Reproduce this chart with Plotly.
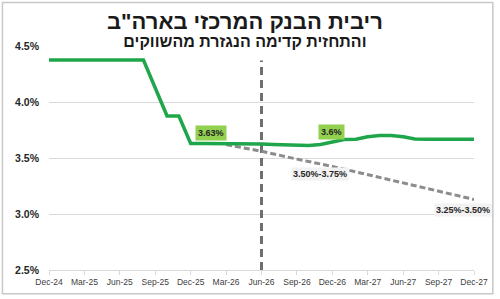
import plotly.graph_objects as go
import pandas as pd

months = [p.strftime("%b-%y") for p in pd.period_range("2024-12", "2027-12", freq="M")]

fed_rate = [4.375, 4.375, 4.375, 4.375, 4.375, 4.375, 4.375, 4.375, 4.375,
            4.125, 3.875, 3.875, 3.63, 3.63, 3.63, 3.63, 3.625, 3.625, 3.625,
            3.62, 3.615, 3.61, 3.612, 3.62, 3.64, 3.665, 3.668, 3.69, 3.70,
            3.70, 3.69, 3.67, 3.668, 3.668, 3.668, 3.668, 3.668]

fcst_months = ["Mar-26", "Jun-26", "Sep-26", "Dec-26", "Dec-27"]
fcst_rate = [3.62, 3.56, 3.49, 3.425, 3.13]

vline_month = "Jun-26"
vline_top = 4.37

tick_months = months[::3]
y_ticks = [2.5, 3.0, 3.5, 4.0, 4.5]
y_ticktext = ["2.5%", "3.0%", "3.5%", "4.0%", "4.5%"]

title1 = 'ריבית הבנק המרכזי בארה"ב'
title2 = "והתחזית קדימה הנגזרת מהשווקים"

fig = go.Figure()
fig.add_trace(go.Scatter(x=[vline_month, vline_month], y=[2.5, vline_top], mode="lines",
                         line=dict(color="#6f6f6f", width=3, dash="8px,5px"), hoverinfo="skip"))
fig.add_trace(go.Scatter(x=fcst_months, y=fcst_rate, mode="lines",
                         line=dict(color="#8c8c8c", width=3, dash="6px,3px"), hoverinfo="skip"))
fig.add_trace(go.Scatter(x=months, y=fed_rate, mode="lines",
                         line=dict(color="#1fa64a", width=3.5), hoverinfo="skip"))

lab_font = dict(family="Liberation Sans, Arial", size=9, color="#262626")
fig.add_annotation(x=13.76, y=3.72, text="<b>3.63%</b>", showarrow=False,
                   bgcolor="#92d050", font=lab_font, borderpad=2)
fig.add_annotation(x=23.97, y=3.729, text="<b>3.6%</b>", showarrow=False,
                   bgcolor="#92d050", font=lab_font, borderpad=2)
fig.add_annotation(x=22.99, y=3.359, text="<b>3.50%-3.75%</b>", showarrow=False,
                   bgcolor="#f2f2f2", font=lab_font, borderpad=1)
fig.add_annotation(x=35.07, y=3.032, text="<b>3.25%-3.50%</b>", showarrow=False,
                   bgcolor="#f2f2f2", font=lab_font, borderpad=1)

title_text = ("<span style='font-size:22px'><b>" + title1 + "</b></span><br>"
              "<span style='font-size:16px'><b>" + title2 + "</b></span>")
fig.add_annotation(xref="paper", yref="paper", x=0.4615, y=1 + (46 - 29.5) / 226, yanchor="middle",
                   text=title_text, showarrow=False,
                   font=dict(family="Liberation Sans, Arial", size=14, color="#1a1a1a"))

fig.add_shape(type="rect", xref="paper", yref="paper",
              x0=(2 - 49) / 429, x1=(497 - 49) / 429, y0=-(296 - 272) / 226, y1=1 + (46 - 2) / 226,
              line=dict(color="#c8c8c8", width=1.5), fillcolor="rgba(0,0,0,0)", layer="below")

fig.update_layout(
    width=500, height=299, margin=dict(l=49, r=22, t=46, b=27),
    paper_bgcolor="white", plot_bgcolor="white", showlegend=False,
    xaxis=dict(type="category", categoryorder="array", categoryarray=months,
               range=[0, len(months) - 1], tickmode="array", tickvals=tick_months, ticktext=tick_months,
               showgrid=False, showline=True, linecolor="#d9d9d9", linewidth=1,
               ticks="outside", ticklen=4, tickcolor="#d9d9d9",
               tickfont=dict(family="Liberation Sans, Arial", size=8.5, color="#404040"), zeroline=False),
    yaxis=dict(range=[2.5, 4.5], tickmode="array", tickvals=y_ticks, ticktext=y_ticktext,
               showgrid=True, gridcolor="#d9d9d9", gridwidth=1, zeroline=False,
               ticklabelstandoff=9,
               tickfont=dict(family="Liberation Sans, Arial", size=10.5, color="#262626", weight="bold")),
)

fig.write_html("out.html")
